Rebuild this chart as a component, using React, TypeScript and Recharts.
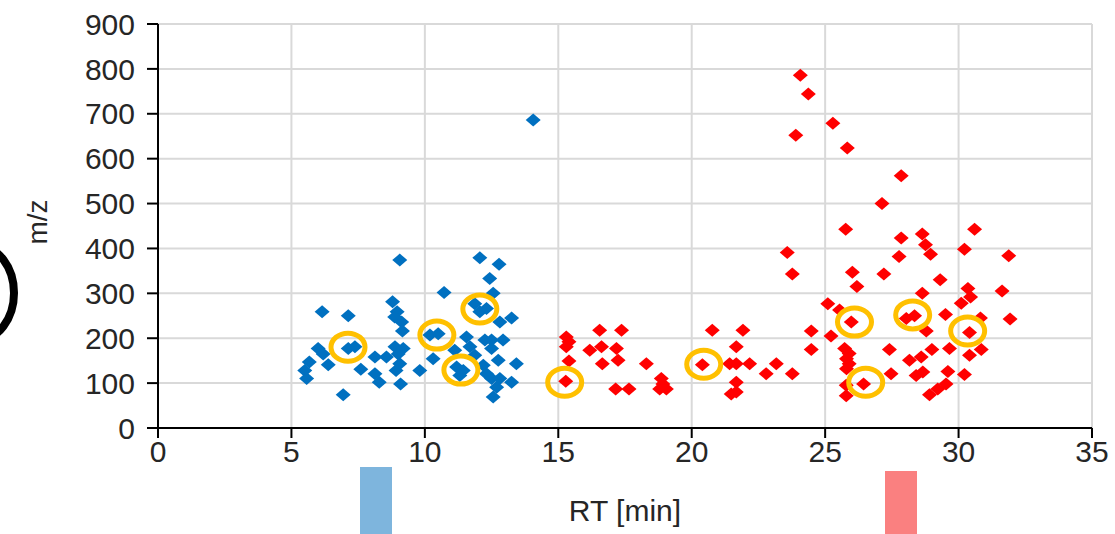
import { ScatterChart, Scatter, XAxis, YAxis, CartesianGrid } from 'recharts'

const xTicks = [0, 5, 10, 15, 20, 25, 30, 35]
const yTicks = [0, 100, 200, 300, 400, 500, 600, 700, 800, 900]

// early eluting features (blue)
const blueRt = [
  9.06, 8.79, 8.96, 8.87, 9.13, 9.16, 6.15, 7.13, 6.0, 6.19, 7.13, 7.38, 5.67, 5.5, 5.57, 6.38, 6.94, 7.6, 8.13, 8.56,
  8.13, 8.29, 8.88, 9.19, 9.0, 9.06, 8.92, 9.09, 9.81, 12.06, 12.78, 12.43, 10.72, 12.56, 11.87, 12.06, 12.31, 12.81,
  13.25, 10.19, 10.5, 11.56, 12.25, 12.5, 12.93, 11.12, 11.69, 12.5, 10.31, 11.87, 12.75, 13.43, 11.19, 11.44, 11.31,
  12.19, 12.31, 12.5, 13.25, 12.69, 12.56, 12.81, 14.06
]
const blueMz = [
  374, 281, 259, 247, 236, 216, 259, 250, 177, 165, 177, 181, 147, 128, 110, 141, 74, 131, 158, 158,
  121, 102, 181, 177, 165, 143, 128, 98, 128, 379, 365, 333, 302, 300, 277, 259, 266, 236,
  245, 207, 210, 203, 196, 196, 196, 173, 181, 177, 154, 162, 151, 143, 136, 128, 117,
  140, 121, 110, 102, 91, 69, 110, 686
]

// late eluting features (red)
const redRt = [
  15.3, 15.4, 15.3, 15.4, 15.28, 16.55, 17.37, 16.18, 16.62, 17.18, 17.24, 16.65, 18.3, 17.15, 17.65, 18.86, 18.92,
  18.8, 19.05, 20.77, 21.92, 21.67, 20.4, 21.42, 21.67, 22.17, 21.67, 21.48, 21.67, 22.79, 23.17, 23.77, 24.48, 24.48,
  24.07, 24.37, 25.29, 23.9, 25.83, 27.85, 27.13, 25.77, 30.6, 27.85, 28.64, 28.76, 28.95, 30.22, 23.58, 31.88, 27.77,
  23.77, 26.02, 27.2, 29.31, 26.19, 28.64, 30.35, 30.45, 30.1, 31.63, 25.1, 25.54, 25.98, 28.04, 28.35, 29.51, 31.93,
  30.82, 30.41, 28.79, 25.22, 25.73, 25.9, 25.8, 25.9, 25.8, 27.41, 29.0, 29.66, 30.41, 30.85, 28.16, 28.6, 27.47,
  28.41, 28.66, 29.6, 30.22, 26.44, 25.79, 25.79, 28.91, 29.22, 29.53
]
const redMz = [
  203, 192, 181, 149, 104, 218, 218, 173, 181, 177, 151, 143, 143, 87, 87, 110, 98,
  87, 87, 218, 218, 181, 141, 143, 143, 143, 102, 76, 80, 121, 143, 121, 216, 175,
  786, 744, 679, 652, 624, 562, 500, 443, 443, 423, 432, 408, 387, 398, 391, 384, 382,
  343, 347, 343, 330, 315, 300, 311, 292, 278, 305, 277, 263, 236, 244, 250, 253, 243,
  245, 213, 216, 205, 177, 166, 154, 143, 132, 175, 175, 177, 162, 175, 151, 158, 121,
  117, 125, 126, 119, 98, 95, 72, 74, 87, 98
]

// highlighted features (orange rings)
const markRt = [7.12, 10.45, 11.35, 12.06, 15.24, 20.45, 26.1, 26.52, 28.28, 30.34]
const markMz = [180, 207, 129, 265, 102, 142, 236, 102, 252, 216]

const zip = (xs: number[], ys: number[]) => xs.map((x, i) => ({ rt: x, mz: ys[i] }))
const blueData = zip(blueRt, blueMz)
const redData = zip(redRt, redMz)
const markData = zip(markRt, markMz)

const FONT = '"Liberation Sans", Arial, sans-serif'
const INK = '#262626'

const diamond = (color: string) => (props: any) => {
  const { cx, cy } = props
  return (
    <polygon
      points={`${cx - 7.5},${cy} ${cx},${cy - 6.5} ${cx + 7.5},${cy} ${cx},${cy + 6.5}`}
      fill={color}
    />
  )
}

const ring = (props: any) => {
  const { cx, cy } = props
  return <ellipse cx={cx} cy={cy} rx={17} ry={14} fill='none' stroke='#FFC000' strokeWidth={5} />
}

export default function App () {
  const tick = { fontSize: 30, fill: INK, fontFamily: FONT }
  return (
    <div style={{ position: 'absolute', left: 0, top: 0, width: 1115, height: 534, background: '#fff', overflow: 'hidden' }}>
      <ScatterChart width={1115} height={534} margin={{ top: 24, right: 23, bottom: 34, left: 0 }}>
        <CartesianGrid stroke='#d9d9d9' strokeWidth={2} />
        <XAxis
          type='number'
          dataKey='rt'
          domain={[0, 35]}
          ticks={xTicks}
          height={72}
          axisLine={{ stroke: '#000', strokeWidth: 2 }}
          tickLine={{ stroke: '#000', strokeWidth: 2 }}
          tickSize={10}
          tickMargin={3}
          tick={tick}
          label={{ value: 'RT [min]', position: 'bottom', offset: 0, fontSize: 30, fill: INK, fontFamily: FONT }}
        />
        <YAxis
          type='number'
          dataKey='mz'
          domain={[0, 900]}
          ticks={yTicks}
          width={158}
          axisLine={{ stroke: '#000', strokeWidth: 2 }}
          tickLine={{ stroke: '#000', strokeWidth: 2 }}
          tickSize={11}
          tickMargin={12}
          tick={tick}
          label={{
            content: () => (
              <text
                x={37}
                y={222}
                transform='rotate(-90 37 222)'
                textAnchor='middle'
                dominantBaseline='central'
                fontSize={28}
                fill={INK}
                fontFamily={FONT}
              >
                m/z
              </text>
            )
          }}
        />
        <Scatter data={blueData} fill='#0070C0' shape={diamond('#0070C0')} isAnimationActive={false} />
        <Scatter data={redData} fill='#FF0000' shape={diamond('#FF0000')} isAnimationActive={false} />
        <Scatter data={markData} fill='none' shape={ring} isAnimationActive={false} />
      </ScatterChart>
      <div style={{ position: 'absolute', left: 360, top: 467, width: 32, height: 67, background: '#7EB5DD' }} />
      <div style={{ position: 'absolute', left: 885, top: 471, width: 32, height: 63, background: '#FA8080' }} />
      <svg style={{ position: 'absolute', left: 0, top: 0 }} width={30} height={534}>
        <ellipse cx={-22} cy={293} rx={36} ry={47} fill='none' stroke='#000' strokeWidth={8} />
      </svg>
    </div>
  )
}
